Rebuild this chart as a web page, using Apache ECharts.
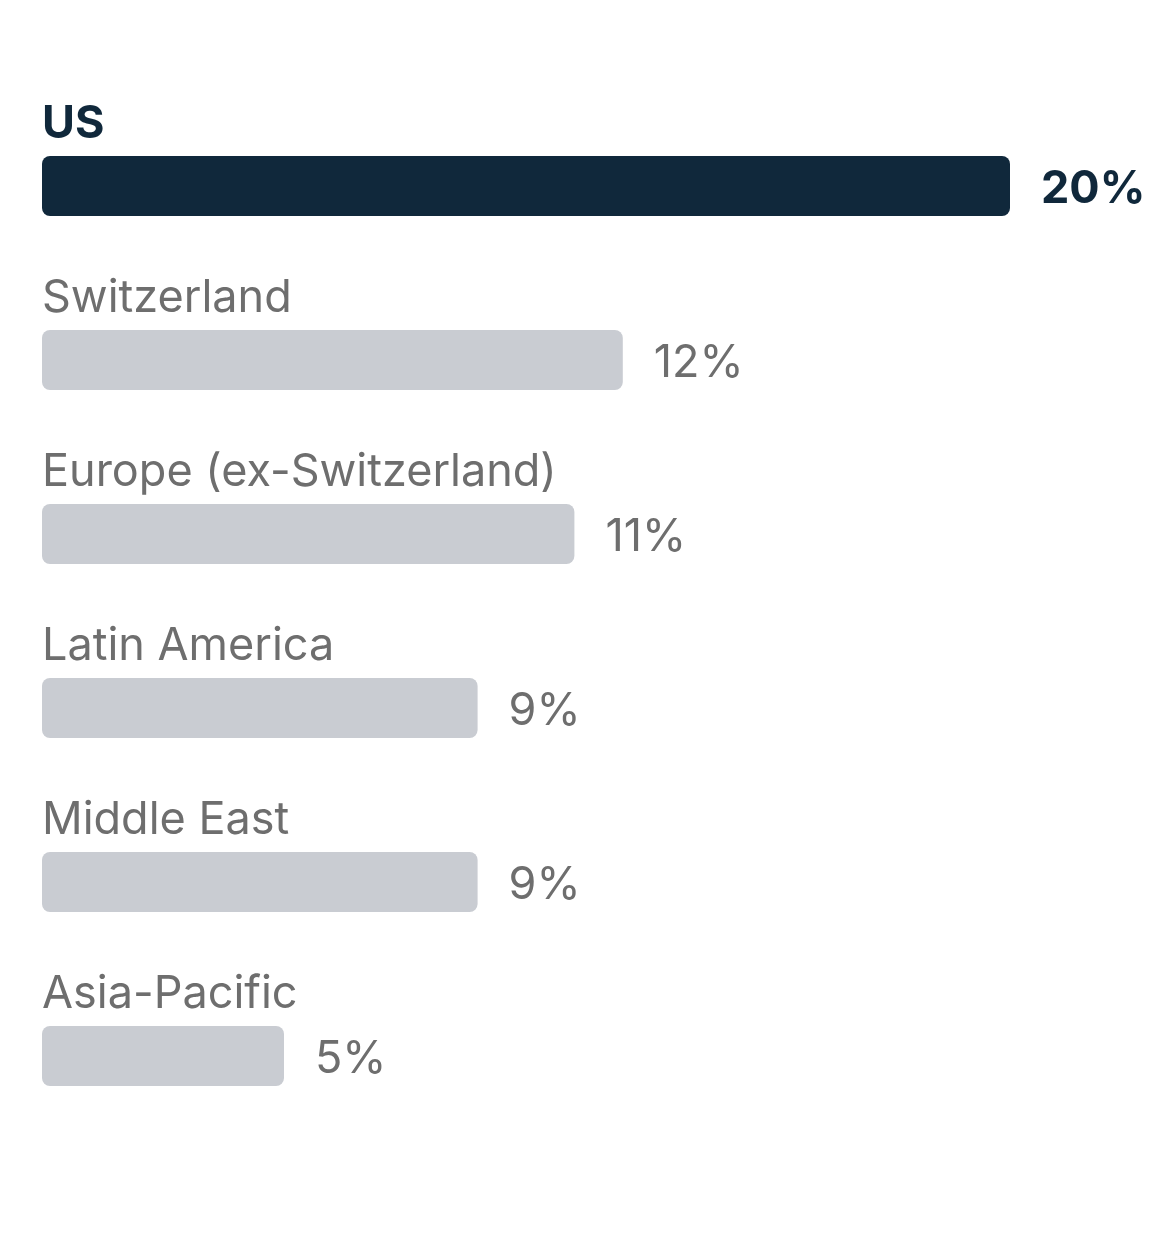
<!DOCTYPE html>
<html>
<head>
<meta charset="utf-8">
<title>Regions</title>
<script src="https://cdn.jsdelivr.net/npm/echarts@6/dist/echarts.min.js"></script>
<style>
  html, body { margin: 0; padding: 0; background: #fff; }
  #main { width: 1170px; height: 1236px; }
</style>
</head>
<body>
<div id="main"></div>
<script>
// regions and their share (%)
var regions = ['US', 'Switzerland', 'Europe (ex-Switzerland)', 'Latin America', 'Middle East', 'Asia-Pacific'];
var shares = [20, 12, 11, 9, 9, 5];
var highlighted = ['US'];

var DARK = '#10283b', GREY_BAR = '#c9ccd2', GREY_TEXT = '#6e6e6e';
var FONT = 'Inter, "Noto Sans", sans-serif';

var chart = echarts.init(document.getElementById('main'));

var barData = [], nameData = [];
for (var i = 0; i < regions.length; i++) {
  var hi = highlighted.indexOf(regions[i]) >= 0;
  barData.push({
    value: shares[i],
    itemStyle: { color: hi ? DARK : GREY_BAR },
    label: { color: hi ? DARK : GREY_TEXT, fontWeight: hi ? 700 : 400 }
  });
  nameData.push({
    value: shares[i],
    label: { color: hi ? DARK : GREY_TEXT, fontWeight: hi ? 700 : 400 }
  });
}

chart.setOption({
  animation: false,
  grid: { left: 42, width: 968, top: 99, height: 1044 },
  xAxis: { type: 'value', min: 0, max: 20, show: false },
  yAxis: { type: 'category', data: regions, inverse: true, show: false },
  series: [{
    type: 'bar',
    data: barData,
    barWidth: 60,
    itemStyle: { borderRadius: 8 },
    label: {
      show: true,
      position: 'right',
      distance: 31,
      offset: [0, 3],
      formatter: '{c}%',
      fontFamily: FONT,
      fontSize: 45
    }
  }, {
    // carries the region names above the bars
    type: 'bar',
    data: nameData,
    barWidth: 60,
    barGap: '-100%',
    itemStyle: { color: 'rgba(0,0,0,0)' },
    silent: true,
    label: {
      show: true,
      position: [0, -32],
      align: 'left',
      verticalAlign: 'middle',
      formatter: '{b}',
      fontFamily: FONT,
      fontSize: 45
    }
  }]
});
</script>
</body>
</html>
